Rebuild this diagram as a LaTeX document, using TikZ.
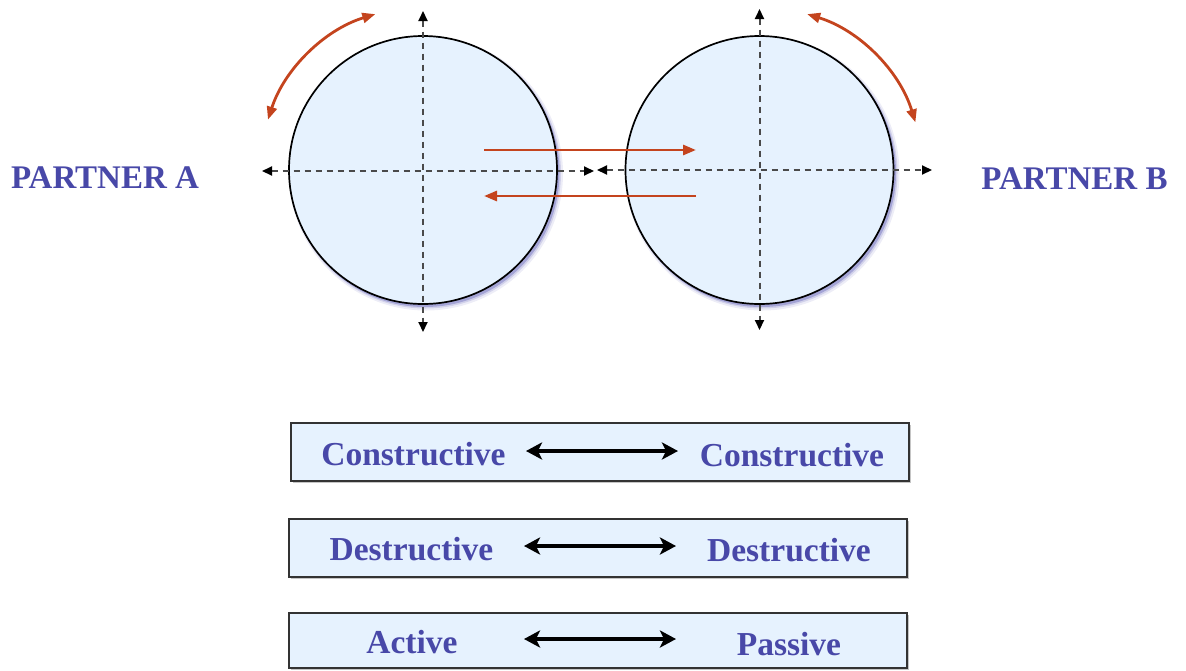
\documentclass[tikz,border=0pt]{standalone}
\usepackage{fontspec}
\setmainfont{Liberation Serif}
\usetikzlibrary{arrows.meta,calc}
\definecolor{fillblue}{HTML}{E6F2FE}
\definecolor{txtblue}{HTML}{4848A8}
\definecolor{redarr}{HTML}{C4441E}
\definecolor{axiscol}{HTML}{4A4A4A}
\definecolor{boxline}{HTML}{333333}
\definecolor{glow}{HTML}{5050B0}
\tikzset{
  disc/.style={circle, draw=black, line width=1.7pt, fill=fillblue, minimum size=268pt, inner sep=0pt},
  axis/.style={draw=axiscol, line width=2pt, dash pattern=on 6.5pt off 4.5pt, {Triangle[length=10pt,width=9pt,color=black]}-{Triangle[length=10pt,width=9pt,color=black]}},
  redline/.style={draw=redarr, line width=2.8pt, -{Triangle[length=13pt,width=10pt]}},
  redarc/.style={draw=redarr, line width=2.8pt, {Triangle[length=13pt,width=10pt]}-{Triangle[length=13pt,width=10pt]}},
  partner/.style={text=txtblue, font=\fontsize{33}{38}\selectfont\bfseries, inner sep=0pt, anchor=base},
  rowbox/.style={draw=boxline, line width=2pt, fill=fillblue, minimum width=618pt, inner sep=0pt},
  rowtxt/.style={text=txtblue, font=\fontsize{33.5}{38}\selectfont\bfseries, inner sep=0pt, anchor=base},
  biarrow/.style={draw=black, line width=4.5pt, {Stealth[length=16pt,width=17pt,inset=4pt]}-{Stealth[length=16pt,width=17pt,inset=4pt]}},
}
\begin{document}
\begin{tikzpicture}[x=1pt,y=-1pt]
\useasboundingbox (0,0) rectangle (1186,670);
% circle glows
\foreach \cx/\cy in {423/170, 759.5/170}{
  \fill[glow, opacity=0.10] (\cx+3,\cy+3.5) circle (137);
  \fill[glow, opacity=0.18] (\cx+2.5,\cy+3) circle (135.5);
  \fill[glow, opacity=0.35] (\cx+2,\cy+2.5) circle (134.5);
}
\node[disc] (A) at (423,170) {};
\node[disc] (B) at (759.5,170) {};
% axes
\coordinate (AL) at (262,171);
\coordinate (AR) at (594,171);
\coordinate (AT) at (423,11);
\coordinate (AB) at (423,332);
\coordinate (BL) at (597,170);
\coordinate (BR) at (932,170);
\coordinate (BT) at (759.5,9);
\coordinate (BB) at (759.5,330);
\draw[axis] (AL) -- (AR);
\draw[axis] (AT) -- (AB);
\draw[axis] (BL) -- (BR);
\draw[axis] (BT) -- (BB);
% red exchange arrows
\coordinate (r1s) at (484,150);
\coordinate (r1e) at (696,150);
\coordinate (r2s) at (696,196);
\coordinate (r2e) at (484,196);
\draw[redline] (r1s) -- (r1e);
\draw[redline] (r2s) -- (r2e);
% rotation arcs
\draw[redarc] ($(A.center)+(-162:163)$) arc[start angle=-162, end angle=-107, radius=163];
\draw[redarc] ($(B.center)+(-73:163)$) arc[start angle=-73, end angle=-17, radius=163];
% partner labels
\node[partner] (pa) at (105,188) {PARTNER A};
\node[partner] (pb) at (1074.5,189) {PARTNER B};
% rows
\foreach \bx/\by/\bh in {600/452/58, 598/548/58, 598/640.5/55}{
  \fill[black!45, opacity=0.5] (\bx-309+2,\by-\bh/2+2) rectangle (\bx+309+2,\by+\bh/2+2);
}
\node[rowbox, minimum height=58pt] (box1) at (600,452) {};
\node[rowbox, minimum height=58pt] (box2) at (598,548) {};
\node[rowbox, minimum height=55pt] (box3) at (598,640.5) {};
\node[rowtxt] (c1) at (413.5,465) {Constructive};
\node[rowtxt] (c2) at (792,466) {Constructive};
\node[rowtxt] (d1) at (411.5,560) {Destructive};
\node[rowtxt] (d2) at (789,561) {Destructive};
\node[rowtxt] (a1) at (412,653) {Active};
\node[rowtxt] (p2) at (789,655) {Passive};
\coordinate (k1l) at (526,451);
\coordinate (k1r) at (678,451);
\coordinate (k2l) at (524,546);
\coordinate (k2r) at (676,546);
\coordinate (k3l) at (524,639);
\coordinate (k3r) at (676,639);
\draw[biarrow] (k1l) -- (k1r);
\draw[biarrow] (k2l) -- (k2r);
\draw[biarrow] (k3l) -- (k3r);
\end{tikzpicture}
\end{document}
